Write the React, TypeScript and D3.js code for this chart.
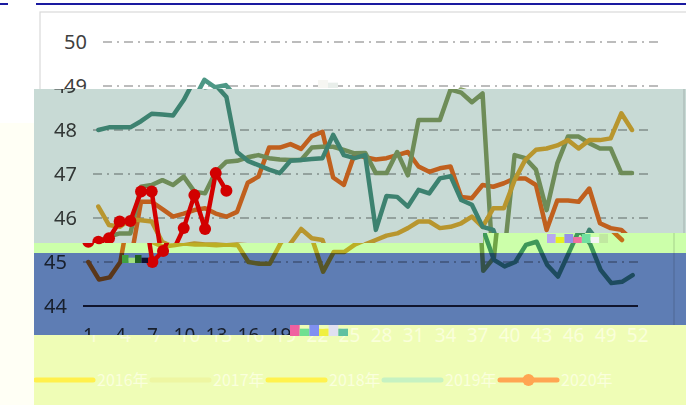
import * as d3 from "d3";

// week categories and ticks
const WEEKS = [
  1, 2, 3, 4, 5, 6, 7, 8, 9, 10, 11, 12, 13, 14, 15, 16, 17, 18, 19, 20, 21, 22, 23, 24, 25, 26,
  27, 28, 29, 30, 31, 32, 33, 34, 35, 36, 37, 38, 39, 40, 41, 42, 43, 44, 45, 46, 47, 48, 49, 50, 51, 52,
];
const X_TICKS = [1, 4, 7, 10, 13, 16, 19, 22, 25, 28, 31, 34, 37, 40, 43, 46, 49, 52];
const Y_TICKS = [44, 45, 46, 47, 48, 49, 50];
const GRID_VALUES = [45, 46, 47, 48, 49, 50];
const YEARS = ["2016年", "2017年", "2018年", "2019年", "2020年"];

const V2016 = [
  45.0, 44.6, 44.65, 45.0, 46.37, 46.37, 46.2, 46.03, 46.1, 46.18,
  46.22, 46.1, 46.03, 46.14, 46.8, 46.94, 47.6, 47.6, 47.68, 47.57,
  47.86, 47.96, 46.92, 46.75, 47.45, 47.38, 47.33, 47.36, 47.43, 47.5,
  47.17, 47.05, 47.13, 47.17, 46.48, 46.45, 46.75, 46.71, 46.79, 46.9,
  46.9, 46.75, 45.73, 46.4, 46.4, 46.37, 46.67, 45.88, 45.77, 45.73, 45.5,
];
const V2017 = [
  45.46, 45.58, 45.65, 45.65, 46.71, 46.75, 46.86, 46.75, 46.94, 46.6,
  46.56, 47.05, 47.28, 47.3, 47.38, 47.43, 47.36, 47.33, 47.32, 47.32,
  47.6, 47.62, 47.62, 47.55, 47.47, 47.48, 47.02, 47.02, 47.5, 46.97,
  48.23, 48.23, 48.23, 48.92, 48.85, 48.63, 48.83, 44.8, 45.1, 47.43,
  47.36, 47.1, 46.18, 47.24, 47.85, 47.85, 47.7, 47.58, 47.58, 47.02, 47.02,
];
const V2018 = [
  46.26, 45.84, 45.8, 45.97, 45.95, 45.92, 45.45, 45.35, 45.38, 45.42,
  45.4, 45.4, 45.38, 45.4, 45.38, 45.0, 44.96, 44.96, 45.42, 45.75,
  45.54, 45.5, 44.78, 45.23, 45.23, 45.4, 45.5, 45.6, 45.65, 45.77,
  45.92, 45.92, 45.77, 45.8, 45.88, 46.03, 45.8, 46.22, 46.22, 46.86,
  47.32, 47.55, 47.58, 47.65, 47.77, 47.58, 47.77, 47.77, 47.81, 48.38, 48.0,
];
const V2019 = [
  48.0, 48.06, 48.06, 48.06, 48.2, 48.37, 48.35, 48.33, 48.68, 49.14,
  48.97, 49.02, 48.75, 47.5, 47.3, 47.2, 47.1, 47.02, 47.3, 47.32,
  47.34, 47.36, 47.89, 47.43, 47.36, 47.43, 45.73, 46.5, 46.48, 46.26,
  46.64, 46.56, 46.9, 46.95, 46.41, 46.3, 45.8, 45.73, 45.05, 44.9,
  45.0, 45.39, 45.46, 44.93, 44.67, 45.2, 45.73, 45.42, 44.82, 44.52, 44.55, 44.7,
];
const V2020 = [45.46, 45.54, 45.92, 45.93, 46.6, 46.6, 45.0, 45.25, 45.77, 46.52, 45.75, 47.02, 46.62];

const LINE_COLORS = ["#F57024", "#8CA469", "#EBAF37", "#4E9886"];
const RED = "#D20000";
// legend swatches as they show through the pale yellow strip
const LEGEND_COLORS = ["#FFF04C", "#EEF6A2", "#FFF24E", "#C6F2C2", "#FFA552"];

const W = 686;
const H = 405;
const FONT = "'Noto Sans', 'Noto Sans CJK SC', sans-serif";

type Band = { id: string; rects: number[][]; dx: number; tint: string | null };

// shifted strips of the picture: clip rects, horizontal offset and a multiply tint
const BANDS: Band[] = [
  { id: "top", rects: [[0, 0, 686, 89]], dx: 0, tint: null },
  { id: "tint", rects: [[34, 89, 652, 144], [34, 233, 449, 10]], dx: -10, tint: "#C8DAD5" },
  { id: "green", rects: [[34, 243, 652, 10], [483, 233, 203, 10]], dx: -20, tint: "#CCFFAA" },
];
const BLUE: Band = { id: "blue", rects: [[34, 253, 652, 72], [34, 325, 256, 10]], dx: -20, tint: "#5E7DB4" };

const GLITCHES = [
  { x: 547, y: 234, w: 61, h: 9, colors: ["#B8A8F0", "#E8F020", "#9890E8", "#F070A0", "#70E0A0", "#F4F4F4", "#C0E8A0"] },
  { x: 290, y: 325, w: 58, h: 11, colors: ["#F060A0", "#70E090", "#8090F0", "#F0F040", "#E0E0F0", "#60C0A0"] },
  { x: 122, y: 255, w: 26, h: 8, colors: ["#40A040", "#A0E080", "#206020", "#101030"] },
  { x: 318, y: 80, w: 20, h: 8, colors: ["#F6F6F2", "#E8EEEA"] },
];

const xBand = d3.scaleBand<number>().domain(WEEKS).range([103, 658]);
const xPos = (w: number) => (xBand(w) as number) + xBand.bandwidth() / 2;
const yScale = d3.scaleLinear().domain([44, 50]).range([306, 42]);

const lineGen = d3
  .line<number>()
  .x((_, i) => xPos(WEEKS[i]))
  .y((d) => yScale(d));

// does a text box (in unshifted chart coordinates) show inside the band?
const shows = (b: Band, x0: number, x1: number, y0: number, y1: number) =>
  b.rects.some(
    (r) => x1 + b.dx > r[0] && x0 + b.dx < r[0] + r[2] && y1 > r[1] && y0 < r[1] + r[3]
  );

const ChartBase = ({ band }: { band: Band }) => (
  <g>
    <rect x={40} y={12} width={654} height={420} fill="#fff" stroke="#D9D9D9" strokeWidth={1.2} />
    {GRID_VALUES.map((v) => (
      <line
        key={v}
        x1={103}
        x2={658}
        y1={yScale(v)}
        y2={yScale(v)}
        stroke="#A6A6A6"
        strokeWidth={1.5}
        strokeDasharray="9,5,2,5"
      />
    ))}
    <line x1={103} x2={658} y1={yScale(44)} y2={yScale(44)} stroke="#2B2B40" strokeWidth={2} />
    {Y_TICKS.filter((v) => shows(band, 60, 87, yScale(v) - 8, yScale(v) + 8)).map((v) => (
      <text key={v} x={87} y={yScale(v)} dy="0.35em" textAnchor="end" fontSize={20} fill="#404040">
        {v}
      </text>
    ))}
    {X_TICKS.filter((w) => shows(band, xPos(w) - 10, xPos(w) + 10, 328, 342)).map((w) => (
      <text key={w} x={xPos(w)} y={342} textAnchor="middle" fontSize={19} fill="#404040">
        {w}
      </text>
    ))}
    {[V2016, V2017, V2018, V2019].map((vals, i) => (
      <path
        key={i}
        d={lineGen(vals) || ""}
        fill="none"
        stroke={LINE_COLORS[i]}
        strokeWidth={4.5}
        strokeLinejoin="round"
        strokeLinecap="round"
      />
    ))}
  </g>
);

const RedSeries = () => (
  <g>
    <path d={lineGen(V2020) || ""} fill="none" stroke={RED} strokeWidth={4.5} strokeLinejoin="round" />
    {V2020.map((v, i) => (
      <circle key={i} cx={xPos(WEEKS[i])} cy={yScale(v)} r={6} fill={RED} />
    ))}
  </g>
);

const BandView = ({ band }: { band: Band }) => (
  <g clipPath={`url(#clip-${band.id})`}>
    <rect x={0} y={0} width={W} height={H} fill="#fff" />
    <g transform={`translate(${band.dx},0)`}>
      <ChartBase band={band} />
    </g>
    {band.tint && (
      <rect x={0} y={0} width={W} height={H} fill={band.tint} style={{ mixBlendMode: "multiply" }} />
    )}
    <g transform={`translate(${band.dx},0)`}>
      <RedSeries />
    </g>
  </g>
);

export default function App() {
  return (
    <svg
      width={W}
      height={H}
      style={{ position: "absolute", left: 0, top: 0, display: "block", fontFamily: FONT }}
    >
      <defs>
        {[...BANDS, BLUE].map((b) => (
          <clipPath key={b.id} id={"clip-" + b.id}>
            {b.rects.map((r, i) => (
              <rect key={i} x={r[0]} y={r[1]} width={r[2]} height={r[3]} />
            ))}
          </clipPath>
        ))}
        <clipPath id="clip-yellow">
          <rect x={34} y={325} width={652} height={80} />
        </clipPath>
      </defs>

      <rect x={0} y={0} width={W} height={H} fill="#fff" />
      <rect x={0} y={123} width={34} height={282} fill="#FFFFF5" />

      {BANDS.map((b) => (
        <BandView key={b.id} band={b} />
      ))}

      <g clipPath="url(#clip-yellow)">
        <rect x={34} y={325} width={652} height={80} fill="#EFFDB6" />
        <g transform="translate(-15,0)">
          {X_TICKS.map((w) => (
            <text key={w} x={xPos(w)} y={342} textAnchor="middle" fontSize={19} fill="#FAFFDA">
              {w}
            </text>
          ))}
        </g>
        {YEARS.map((name, i) => {
          const x0 = 36 + i * 116;
          const x1 = x0 + 57;
          return (
            <g key={name}>
              <line x1={x0} x2={x1} y1={380} y2={380} stroke={LEGEND_COLORS[i]} strokeWidth={5} strokeLinecap="round" />
              {i === 4 && <circle cx={(x0 + x1) / 2} cy={380} r={6} fill={LEGEND_COLORS[i]} />}
              <text x={x1 + 4} y={380} dy="0.35em" fontSize={16} fill="#FAFFDC" fontFamily="'Noto Sans CJK SC', sans-serif">
                {name}
              </text>
            </g>
          );
        })}
      </g>

      {/* blue strip last, so its lower extension sits above the yellow strip */}
      <BandView band={BLUE} />

      {GLITCHES.map((g, gi) =>
        g.colors.map((c, i) => (
          <rect
            key={gi + "_" + i}
            x={g.x + (i * g.w) / g.colors.length}
            y={g.y + ((i % 2) * g.h) / 3}
            width={g.w / g.colors.length}
            height={g.h - ((i % 2) * g.h) / 3}
            fill={c}
          />
        ))
      )}

      <line x1={36} x2={686} y1={4} y2={4} stroke="#1A1AA0" strokeWidth={2} />
      <line x1={0} x2={8} y1={4} y2={4} stroke="#1A1AA0" strokeWidth={2} />
    </svg>
  );
}
